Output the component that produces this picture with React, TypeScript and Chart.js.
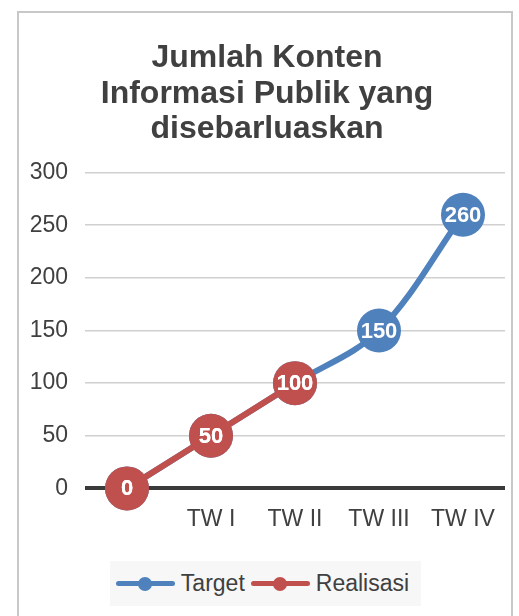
import React, { useEffect, useRef } from "react";
import { Chart, registerables } from "chart.js";

Chart.register(...registerables);

const categories = ["", "TW I", "TW II", "TW III", "TW IV"];
const targetValues = [0, 50, 100, 150, 260];
const realisasiValues: (number | null)[] = [0, 50, 100, null, null];
const titleLines = ["Jumlah Konten", "Informasi Publik yang", "disebarluaskan"];
const seriesNames = ["Target", "Realisasi"];
const seriesColors = ["#4f81bd", "#c0504d"];

const FONT = '"Liberation Sans", Arial, Helvetica, sans-serif';
const TEXT = "#404040";

const pointLabelPlugin = {
  id: "pointLabels",
  afterDatasetsDraw(chart: any) {
    const ctx = chart.ctx;
    ctx.save();
    ctx.font = `bold 22px ${FONT}`;
    ctx.fillStyle = "#ffffff";
    ctx.textAlign = "center";
    ctx.textBaseline = "middle";
    const metas = chart.getSortedVisibleDatasetMetas().slice().reverse();
    metas.forEach((meta: any) => {
      const ds = chart.data.datasets[meta.index];
      meta.data.forEach((el: any, i: number) => {
        const v = ds.data[i];
        if (v === null || v === undefined) return;
        ctx.fillText(String(v), el.x, el.y + 1);
      });
    });
    ctx.restore();
  },
};

function LegendItem({ name, color }: { name: string; color: string }) {
  return (
    <div style={{ display: "flex", alignItems: "center", marginRight: 6 }}>
      <div style={{ position: "relative", width: 59, height: 14, marginRight: 6 }}>
        <div
          style={{
            position: "absolute",
            left: 0,
            top: 4.5,
            width: 59,
            height: 5,
            borderRadius: 3,
            background: color,
          }}
        />
        <div
          style={{
            position: "absolute",
            left: 22.5,
            top: 0,
            width: 14,
            height: 14,
            borderRadius: 7,
            background: color,
          }}
        />
      </div>
      <span style={{ fontFamily: FONT, fontSize: 23, color: TEXT }}>{name}</span>
    </div>
  );
}

export default function App() {
  const canvasRef = useRef<HTMLCanvasElement | null>(null);

  useEffect(() => {
    if (!canvasRef.current) return;
    const common = {
      borderWidth: 6,
      pointRadius: 22,
      pointHoverRadius: 22,
      pointBorderWidth: 0,
      clip: false,
      borderCapStyle: "round",
    };
    const chart = new Chart(canvasRef.current, {
      type: "line",
      data: {
        labels: categories,
        datasets: [
          {
            ...common,
            label: seriesNames[0],
            data: targetValues,
            borderColor: seriesColors[0],
            backgroundColor: seriesColors[0],
            pointBackgroundColor: seriesColors[0],
            pointBorderColor: seriesColors[0],
            tension: 0.35,
            order: 2,
          },
          {
            ...common,
            label: seriesNames[1],
            data: realisasiValues,
            borderColor: seriesColors[1],
            backgroundColor: seriesColors[1],
            pointBackgroundColor: seriesColors[1],
            pointBorderColor: seriesColors[1],
            tension: 0,
            order: 1,
          },
        ],
      },
      options: {
        responsive: false,
        devicePixelRatio: 1,
        animation: false,
        layout: { autoPadding: false, padding: { left: 29, right: 14, top: 0, bottom: 66 } },
        plugins: {
          legend: { display: false },
          tooltip: { enabled: false },
          title: {
            display: true,
            text: titleLines,
            color: TEXT,
            font: { family: FONT, size: 32, weight: "bold", lineHeight: 1.1 },
            padding: { top: 41, bottom: 26 },
          },
        },
        scales: {
          x: {
            offset: true,
            grid: { display: false, drawTicks: false },
            border: { display: false },
            ticks: {
              color: TEXT,
              font: { family: FONT, size: 23 },
              padding: 17,
              maxRotation: 0,
              autoSkip: false,
            },
            afterFit: (s: any) => {
              s.paddingLeft = 0;
              s.paddingRight = 0;
            },
          },
          y: {
            min: 0,
            max: 300,
            grid: {
              drawTicks: false,
              color: (c: any) => (c.tick && c.tick.value === 0 ? "#3a3a3a" : "#d0d0d0"),
              lineWidth: (c: any) => (c.tick && c.tick.value === 0 ? 4 : 1.5),
            },
            border: { display: false },
            ticks: {
              stepSize: 50,
              color: TEXT,
              font: { family: FONT, size: 23 },
              padding: 17,
            },
            afterFit: (s: any) => {
              s.width = 56;
            },
          },
        },
      },
      plugins: [pointLabelPlugin],
    } as any);
    return () => chart.destroy();
  }, []);

  return (
    <div
      style={{
        position: "fixed",
        left: 0,
        top: 0,
        width: 519,
        height: 616,
        overflow: "hidden",
        background: "#ffffff",
      }}
    >
      <div
        style={{
          position: "absolute",
          left: 17,
          top: 11,
          width: 496,
          height: 700,
          border: "2px solid #c8c8c8",
          boxSizing: "border-box",
        }}
      />
      <canvas
        ref={canvasRef}
        width={519}
        height={616}
        style={{ position: "absolute", left: 0, top: 0, width: 519, height: 616 }}
      />
      <div
        style={{
          position: "absolute",
          left: 110,
          top: 561,
          width: 311,
          height: 45,
          background: "#f7f7f7",
          display: "flex",
          alignItems: "center",
          justifyContent: "center",
        }}
      >
        <LegendItem name={seriesNames[0]} color={seriesColors[0]} />
        <LegendItem name={seriesNames[1]} color={seriesColors[1]} />
      </div>
    </div>
  );
}
